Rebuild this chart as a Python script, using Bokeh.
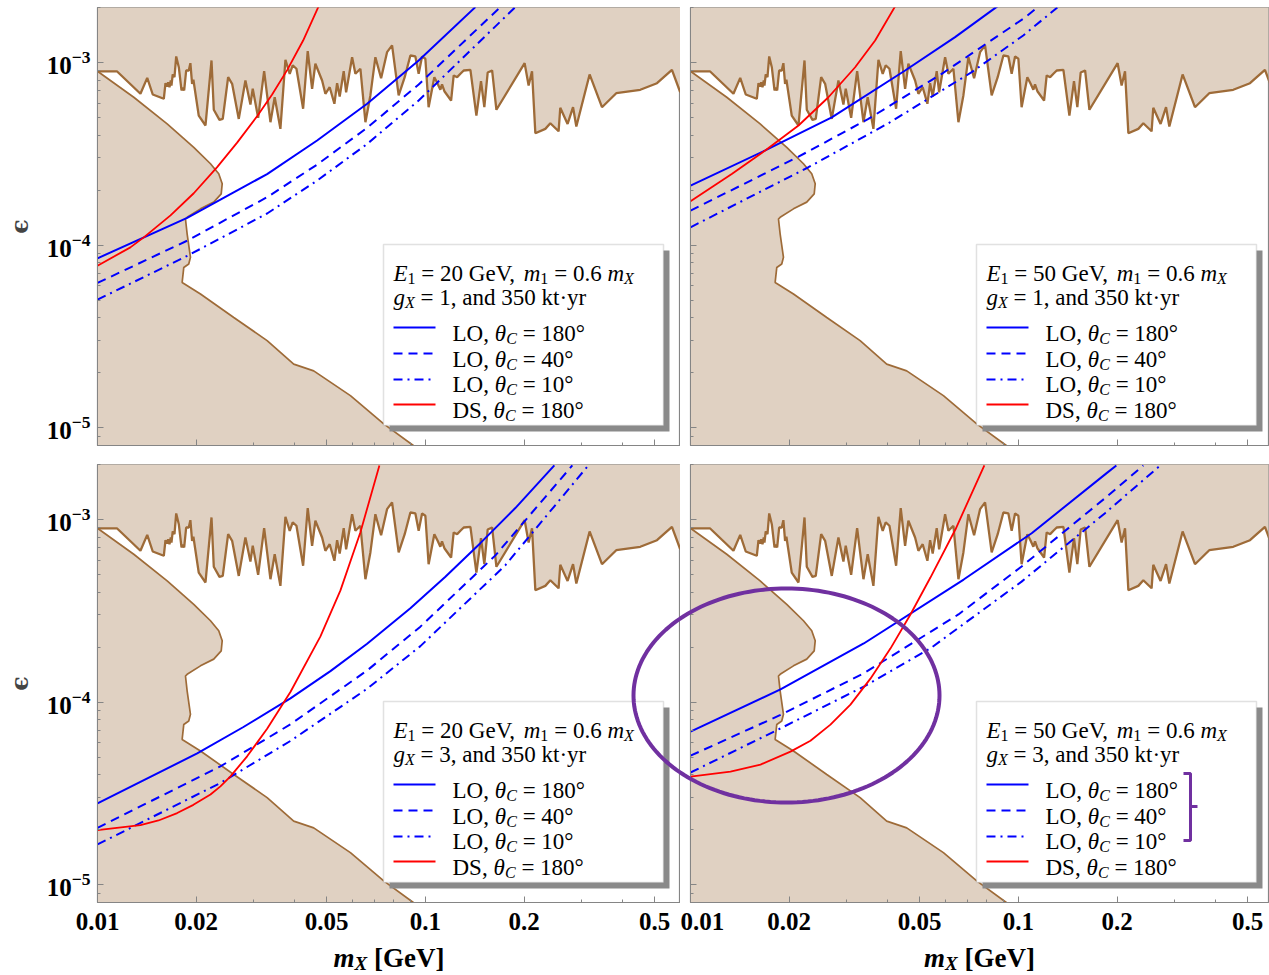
import numpy as np
from bokeh.plotting import figure
from bokeh.layouts import column, row
from bokeh.core.properties import value
from bokeh.models import (Range1d, FixedTicker, CustomJSTickFormatter, Label, BoxAnnotation)
from bokeh.embed import file_html
from bokeh.resources import INLINE

# ---------------- data ----------------
x_ticks = [0.01, 0.02, 0.05, 0.1, 0.2, 0.5]
x_minor = [0.03, 0.04, 0.06, 0.07, 0.08, 0.09, 0.3, 0.4]
y_ticks = [1e-5, 1e-4, 1e-3]

# upper (jagged) excluded region boundary
upper_x = [0.01, 0.01148, 0.01352, 0.01418, 0.01474, 0.01593, 0.01612, 0.01632, 0.01643, 0.01658,
           0.01673, 0.01681, 0.01696, 0.01717, 0.01738, 0.0177, 0.01804, 0.0182, 0.01838, 0.01864,
           0.01898, 0.0192, 0.01943, 0.01961, 0.02036, 0.02135, 0.02227, 0.02263, 0.02355, 0.0241,
           0.02503, 0.02574, 0.02697, 0.02826, 0.02927, 0.02975, 0.0309, 0.03223, 0.03369, 0.03471,
           0.03613, 0.03743, 0.03857, 0.03939, 0.04044, 0.04238, 0.04377, 0.04514, 0.04619, 0.04842,
           0.04955, 0.05107, 0.05279, 0.0538, 0.05479, 0.05636, 0.05732, 0.05978, 0.06118, 0.06337,
           0.06564, 0.06797, 0.0704, 0.07328, 0.07641, 0.07915, 0.0829, 0.08649, 0.09001, 0.09322,
           0.09541, 0.0977, 0.1, 0.1023, 0.1065, 0.109, 0.1111, 0.1124, 0.1143, 0.1198,
           0.122, 0.125, 0.1279, 0.1309, 0.1372, 0.1431, 0.1478, 0.1513, 0.1549, 0.1598,
           0.1647, 0.2008, 0.2065, 0.2115, 0.2165, 0.2322, 0.2405, 0.2549, 0.2579, 0.2715,
           0.2821, 0.2887, 0.3169, 0.3457, 0.3821, 0.4523, 0.5087, 0.565, 0.5989]
upper_y = [8.93e-4, 8.93e-4, 6.74e-4, 8.24e-4, 6.68e-4, 6.33e-4, 7.70e-4, 7.39e-4, 7.80e-4, 7.32e-4,
           7.97e-4, 7.48e-4, 8.60e-4, 8.31e-4, 1.079e-3, 9.42e-4, 7.03e-4, 7.27e-4, 7.03e-4, 9.04e-4,
           9.04e-4, 9.91e-4, 7.64e-4, 8.04e-4, 5.12e-4, 4.52e-4, 1.026e-3, 5.51e-4, 4.85e-4, 4.91e-4,
           8.31e-4, 7.64e-4, 4.91e-4, 7.97e-4, 5.88e-4, 7.18e-4, 4.98e-4, 8.96e-4, 4.71e-4, 6.45e-4,
           4.33e-4, 1.035e-3, 8.67e-4, 9.63e-4, 9.24e-4, 5.58e-4, 1.153e-3, 7.18e-4, 9.84e-4, 7.97e-4,
           6.74e-4, 7.32e-4, 5.94e-4, 7.70e-4, 6.51e-4, 8.96e-4, 6.87e-4, 1.069e-3, 8.67e-4, 9.24e-4,
           4.71e-4, 6.60e-4, 1.069e-3, 8.20e-4, 1.139e-3, 1.240e-3, 6.60e-4, 8.31e-4, 1.092e-3, 1.079e-3,
           8.67e-4, 1.079e-3, 1.048e-3, 5.69e-4, 8.31e-4, 7.64e-4, 7.09e-4, 7.58e-4, 6.96e-4, 6.19e-4,
           8.49e-4, 8.31e-4, 8.67e-4, 9.04e-4, 9.12e-4, 5.12e-4, 7.90e-4, 5.70e-4, 8.81e-4, 9.04e-4,
           5.51e-4, 9.91e-4, 7.48e-4, 8.96e-4, 4.10e-4, 4.33e-4, 4.65e-4, 4.20e-4, 5.65e-4, 4.61e-4,
           5.69e-4, 4.46e-4, 8.60e-4, 5.69e-4, 6.79e-4, 7.09e-4, 7.70e-4, 9.12e-4, 6.87e-4]

# lower-left excluded region boundary
lower_x = [0.01, 0.0129, 0.01631, 0.01966, 0.02211, 0.02343, 0.02401, 0.02384, 0.02262, 0.02061,
           0.01877, 0.01855, 0.01877, 0.01921, 0.01898, 0.01833, 0.01812, 0.02061, 0.02604, 0.03291,
           0.03967, 0.04565, 0.05907, 0.07464, 0.09211]
lower_y = [8.96e-4, 6.45e-4, 4.61e-4, 3.43e-4, 2.79e-4, 2.46e-4, 2.17e-4, 1.91e-4, 1.72e-4, 1.58e-4,
           1.42e-4, 1.39e-4, 1.15e-4, 8.58e-5, 7.89e-5, 7.55e-5, 6.25e-5, 5.40e-5, 4.02e-5, 3.00e-5,
           2.23e-5, 2.05e-5, 1.50e-5, 1.05e-5, 7.97e-6]

# top-left: E1 = 20 GeV, gX = 1
tl_lo180_x = [0.01, 0.01877, 0.03291, 0.04675, 0.06643, 0.09541, 0.1421]
tl_lo180_y = [8.47e-5, 1.41e-4, 2.45e-4, 3.74e-4, 5.94e-4, 1.026e-3, 2.01e-3]
tl_lo40_x = [0.01, 0.01877, 0.03291, 0.04675, 0.06643, 0.09541, 0.1693]
tl_lo40_y = [6.21e-5, 1.058e-4, 1.83e-4, 2.76e-4, 4.39e-4, 7.58e-4, 2.01e-3]
tl_lo10_x = [0.01, 0.01877, 0.03291, 0.04675, 0.06643, 0.09541, 0.1881]
tl_lo10_y = [5.03e-5, 8.73e-5, 1.49e-4, 2.256e-4, 3.58e-4, 6.19e-4, 2.01e-3]
tl_ds180_x = [0.01, 0.0126, 0.01384, 0.0167, 0.01966, 0.02317, 0.02666, 0.03068, 0.03409, 0.03788, 0.04238, 0.04728]
tl_ds180_y = [7.72e-5, 9.72e-5, 1.103e-4, 1.455e-4, 1.923e-4, 2.676e-4, 3.64e-4, 5.08e-4, 6.68e-4, 9.08e-4, 1.319e-3, 2.035e-3]

# top-right: E1 = 50 GeV, gX = 1
tr_lo180_x = [0.01, 0.0169, 0.02697, 0.04514, 0.06412, 0.0863]
tr_lo180_y = [2.12e-4, 3.30e-4, 5.01e-4, 9.04e-4, 1.376e-3, 2.03e-3]
tr_lo40_x = [0.01, 0.02135, 0.03488, 0.05837, 0.1035, 0.1143]
tr_lo40_y = [1.545e-4, 3.05e-4, 4.91e-4, 8.67e-4, 1.736e-3, 2.0e-3]
tr_lo10_x = [0.01, 0.0229, 0.04015, 0.07205, 0.1035, 0.1315]
tr_lo10_y = [1.252e-4, 2.67e-4, 4.65e-4, 8.85e-4, 1.406e-3, 2.0e-3]
tr_ds180_x = [0.01, 0.01336, 0.0169, 0.02135, 0.02634, 0.03178, 0.03657, 0.04209]
tr_ds180_y = [1.738e-4, 2.45e-4, 3.30e-4, 4.52e-4, 6.45e-4, 9.42e-4, 1.32e-3, 2.03e-3]

# bottom-left: E1 = 20 GeV, gX = 3
bl_lo180_x = [0.01, 0.02014, 0.02787, 0.03876, 0.05133, 0.06643, 0.09001, 0.1151, 0.1471, 0.1881, 0.2474]
bl_lo180_y = [2.79e-5, 5.24e-5, 7.31e-5, 1.049e-4, 1.478e-4, 2.087e-4, 3.27e-4, 4.86e-4, 7.42e-4, 1.155e-3, 1.977e-3]
bl_lo40_x = [0.01, 0.02371, 0.03876, 0.06643, 0.09656, 0.1635, 0.2807]
bl_lo40_y = [2.05e-5, 4.45e-5, 7.56e-5, 1.49e-4, 2.59e-4, 6.36e-4, 1.977e-3]
bl_lo10_x = [0.01, 0.02371, 0.03876, 0.06643, 0.09656, 0.1754, 0.3141]
bl_lo10_y = [1.663e-5, 3.61e-5, 6.13e-5, 1.184e-4, 2.026e-4, 5.62e-4, 1.977e-3]
bl_ds180_x = [0.01, 0.01352, 0.01535, 0.0175, 0.01961, 0.02211, 0.02371, 0.02544, 0.0286, 0.03291,
              0.03876, 0.04786, 0.05508, 0.06337, 0.07241]
bl_ds180_y = [1.994e-5, 2.12e-5, 2.25e-5, 2.47e-5, 2.74e-5, 3.12e-5, 3.46e-5, 3.92e-5, 5.05e-5, 7.15e-5,
              1.137e-4, 2.29e-4, 4.09e-4, 8.51e-4, 1.977e-3]

# bottom-right: E1 = 50 GeV, gX = 3
br_lo180_x = [0.01, 0.01881, 0.03376, 0.06811, 0.1098, 0.1859, 0.199]
br_lo180_y = [6.89e-5, 1.175e-4, 2.095e-4, 4.69e-4, 8.41e-4, 1.794e-3, 1.977e-3]
br_lo40_x = [0.01, 0.01881, 0.03376, 0.06564, 0.1023, 0.1838, 0.2405]
br_lo40_y = [5.09e-5, 8.51e-5, 1.438e-4, 3.02e-4, 5.53e-4, 1.308e-3, 1.977e-3]
br_lo10_x = [0.01, 0.01881, 0.03376, 0.05392, 0.1023, 0.1838, 0.271]
br_lo10_y = [4.12e-5, 7.18e-5, 1.216e-4, 1.97e-4, 4.57e-4, 1.083e-3, 1.977e-3]
br_ds180_x = [0.01, 0.01324, 0.01635, 0.02018, 0.02322, 0.02672, 0.03075, 0.03538, 0.04071, 0.04686,
              0.05392, 0.06425, 0.07875]
br_ds180_y = [3.91e-5, 4.16e-5, 4.55e-5, 5.36e-5, 6.15e-5, 7.53e-5, 9.69e-5, 1.345e-4, 1.964e-4, 3.02e-4,
              4.81e-4, 8.81e-4, 1.977e-3]

panel_E1 = ["20", "50", "20", "50"]
panel_gX = ["1", "1", "3", "3"]
entry_labels = [("LO", "180°"), ("LO", "40°"), ("LO", "10°"), ("DS", "180°")]

# ---------------- style / geometry ----------------
FILL = "#e0d1c2"
EDGE = "#9e6b38"
BLUE = "#0000ff"
RED = "#ff0000"
PURPLE = "#7030a0"
FRAME = "#858585"
SERIF = "Liberation Serif"

XMIN, XMAX_L, XMAX_R = 0.01, 0.6, 0.5793
YMIN, YMAX = 8e-6, 2e-3
FW_L, FW_R, FH = 583, 578, 438
PPD_X = FW_L / np.log10(XMAX_L / XMIN)
PPD_Y = FH / np.log10(YMAX / YMIN)


def xd(px):
    return XMIN * 10 ** (px / PPD_X)


def yd(py):
    return YMAX / 10 ** (py / PPD_Y)


# character advance widths (Times / Liberation Serif metrics, per 1000 em)
W_REG = {' ': 250, '=': 564, '.': 250, ',': 250, 'G': 722, 'e': 444, 'V': 722, 'L': 611, 'O': 722,
         'D': 722, 'S': 556, '°': 400, 'a': 444, 'n': 500, 'd': 500, 'k': 500, 't': 278, '·': 250,
         'y': 500, 'r': 333}
W_IT = {' ': 250, 'E': 611, 'm': 722, 'g': 500, 'X': 611, 'C': 667, 'θ': 500}
W_B = {' ': 250, '[': 333, ']': 333, 'G': 778, 'e': 444, 'V': 722}
W_BI = {' ': 250, 'm': 778, 'X': 667}


def run_width(text, table, fs):
    return sum(table.get(c, 500) for c in text) * fs / 1000.0


def put_runs(p, runs, px, py, size, center=False, glyph=False):
    items = []
    total = 0.0
    for text, it, bd, sub in runs:
        fs = size * 0.7 if sub else size
        table = (W_BI if it else W_B) if bd else (W_IT if it else W_REG)
        items.append((text, it, bd, sub, fs, table))
        total += run_width(text, table, fs)
    x = px - total / 2 if center else px
    for text, it, bd, sub, fs, table in items:
        lead = len(text) - len(text.lstrip(' '))
        s = text.strip(' ')
        style = (("bold " if bd else "") + ("italic" if it else "")).strip() or "normal"
        tx = xd(x + lead * table[' '] * fs / 1000.0)
        ty = yd(py + (0.22 * size if sub else 0))
        if s and glyph:
            # glyph text at overlay level is drawn outside the frame (not clipped)
            r = p.text(x=[tx], y=[ty], text=[s], text_font=value(SERIF),
                       text_font_size=value(f"{round(fs)}px"),
                       text_font_style=value(style), text_color="black",
                       text_baseline="alphabetic", text_align="left")
            r.level = "overlay"
        elif s:
            p.add_layout(Label(x=tx, y=ty, text=s, text_font=SERIF,
                               text_font_size=f"{round(fs)}px",
                               text_font_style=style, text_color="black",
                               text_baseline="alphabetic", text_align="left"))
        x += run_width(text, table, fs)


def make_panel(ci, ri, curves, idx):
    left = ci == 0
    top = ri == 0
    fw = FW_L if left else FW_R
    bl = 97 if left else 10
    br = 0 if left else 1
    bt = 7
    bb = 12 if top else 73
    p = figure(width=bl + fw + br, height=bt + FH + bb,
               x_axis_type="log", y_axis_type="log",
               x_range=Range1d(XMIN, XMAX_L if left else XMAX_R),
               y_range=Range1d(YMIN, YMAX),
               output_backend="svg", toolbar_location=None,
               min_border_left=bl, min_border_right=br,
               min_border_top=bt, min_border_bottom=bb,
               background_fill_color="white", border_fill_color="white")
    p.xgrid.visible = False
    p.ygrid.visible = False
    p.outline_line_color = FRAME
    p.outline_line_width = 1.2

    # axes
    p.xaxis.ticker = FixedTicker(ticks=x_ticks, minor_ticks=x_minor)
    p.xaxis.formatter = CustomJSTickFormatter(code="return tick.toString();")
    yminor = [k * 10.0 ** e for e in (-6, -5, -4, -3) for k in range(2, 10)]
    p.yaxis.ticker = FixedTicker(ticks=y_ticks, minor_ticks=yminor)
    for ax in (p.xaxis[0], p.yaxis[0]):
        ax.axis_line_color = FRAME
        ax.major_tick_line_color = FRAME
        ax.minor_tick_line_color = FRAME
        ax.major_tick_in = 6
        ax.major_tick_out = 0
        ax.minor_tick_in = 3
        ax.minor_tick_out = 0
        ax.major_label_text_font = SERIF
        ax.major_label_text_font_style = "bold"
        ax.major_label_text_color = "black"
    if top:
        p.xaxis.major_label_text_font_size = "1px"
        p.xaxis.major_label_text_color = None
        p.xaxis.major_label_standoff = 0
    else:
        p.xaxis.major_label_text_font_size = "25px"
        p.xaxis.major_label_standoff = 10
    if left:
        p.yaxis.major_label_text_font_size = "25px"
        p.yaxis.major_label_standoff = 7
        p.yaxis.axis_label = "ϵ"
        p.yaxis.axis_label_text_font = "DejaVu Serif"
        p.yaxis.axis_label_text_font_style = "bold"
        p.yaxis.axis_label_text_font_size = "24px"
        p.yaxis.axis_label_standoff = 10
    else:
        p.yaxis.major_label_text_font_size = "1px"
        p.yaxis.major_label_text_color = None
        p.yaxis.major_label_standoff = 0

    # excluded regions
    p.varea(x=upper_x, y1=upper_y, y2=[1.0] * len(upper_x), fill_color=FILL)
    px_ = lower_x + [lower_x[-1], lower_x[0]]
    py_ = lower_y + [1e-6, 1e-6]
    p.patch(px_, py_, fill_color=FILL, line_color=None)
    p.line(upper_x, upper_y, line_color=EDGE, line_width=2.3)
    p.line(lower_x, lower_y, line_color=EDGE, line_width=1.7)

    (l180x, l180y), (l40x, l40y), (l10x, l10y), (dsx, dsy) = curves
    p.line(l180x, l180y, line_color=BLUE, line_width=2)
    p.line(l40x, l40y, line_color=BLUE, line_width=2, line_dash="9 6")
    p.line(l10x, l10y, line_color=BLUE, line_width=2, line_dash="9 5 2 5")
    p.line(dsx, dsy, line_color=RED, line_width=1.8)

    # legend box
    p.add_layout(BoxAnnotation(left=xd(292), right=xd(572), top=yd(243), bottom=yd(424),
                               fill_color="#8a8a8a", fill_alpha=1, line_color=None))
    p.add_layout(BoxAnnotation(left=xd(286), right=xd(566), top=yd(237), bottom=yd(418),
                               fill_color="white", fill_alpha=1, line_color="#9a9a9a",
                               line_width=1.5))
    fs = 23
    put_runs(p, [("E", True, False, False), ("1", False, False, True),
                 (f" = {panel_E1[idx]} GeV, ", False, False, False),
                 ("m", True, False, False), ("1", False, False, True),
                 (" = 0.6 ", False, False, False), ("m", True, False, False),
                 ("X", True, False, True)], 296, 266, fs)
    put_runs(p, [("g", True, False, False), ("X", True, False, True),
                 (f" = {panel_gX[idx]}, and 350 kt·yr", False, False, False)], 296, 290, fs)
    base = [326, 351.5, 377, 403]
    samp = [320, 346, 372, 397]
    styles = [(BLUE, "solid"), (BLUE, "9 6"), (BLUE, "9 5 2 5"), (RED, "solid")]
    for k, (lab, ang) in enumerate(entry_labels):
        col, dash = styles[k]
        r = p.line([xd(296), xd(338)], [yd(samp[k]), yd(samp[k])], line_color=col,
                   line_width=2 if col == BLUE else 1.8, line_dash=dash)
        r.level = "overlay"
        put_runs(p, [(f"{lab}, ", False, False, False), ("θ", True, False, False),
                     ("C", True, False, True), (f" = {ang}", False, False, False)],
                 355, base[k], fs)

    # x axis title (below the frame)
    if not top:
        put_runs(p, [("m", True, True, False), ("X", True, True, True),
                     (" [GeV]", False, True, False)], fw / 2.0, 493, 27, center=True,
                 glyph=True)
    return p


curve_sets = [
    [(tl_lo180_x, tl_lo180_y), (tl_lo40_x, tl_lo40_y), (tl_lo10_x, tl_lo10_y), (tl_ds180_x, tl_ds180_y)],
    [(tr_lo180_x, tr_lo180_y), (tr_lo40_x, tr_lo40_y), (tr_lo10_x, tr_lo10_y), (tr_ds180_x, tr_ds180_y)],
    [(bl_lo180_x, bl_lo180_y), (bl_lo40_x, bl_lo40_y), (bl_lo10_x, bl_lo10_y), (bl_ds180_x, bl_ds180_y)],
    [(br_lo180_x, br_lo180_y), (br_lo40_x, br_lo40_y), (br_lo10_x, br_lo10_y), (br_ds180_x, br_ds180_y)],
]

p_tl = make_panel(0, 0, curve_sets[0], 0)
p_tr = make_panel(1, 0, curve_sets[1], 1)
p_bl = make_panel(0, 1, curve_sets[2], 2)
p_br = make_panel(1, 1, curve_sets[3], 3)

# purple hand-drawn highlight (ellipse spanning the two bottom panels) and bracket
t = np.linspace(0, 2 * np.pi, 181)
for p, cx in ((p_br, 96.0), (p_bl, 689.0)):
    ex = cx + 153.0 * np.cos(t)
    ey = 231.0 + 107.0 * np.sin(t)
    re = p.line([xd(v) for v in ex], [yd(v) for v in ey], line_color=PURPLE, line_width=4)
    re.level = "overlay"
bx = [493, 500, 500, 507, 500, 500, 493]
by = [309, 309, 342, 342, 342, 376, 376]
rb = p_br.line([xd(v) for v in bx], [yd(v) for v in by], line_color=PURPLE, line_width=3)
rb.level = "overlay"

layout = column(row(p_tl, p_tr), row(p_bl, p_br))

open("out.html", "w").write(file_html(layout, INLINE))
